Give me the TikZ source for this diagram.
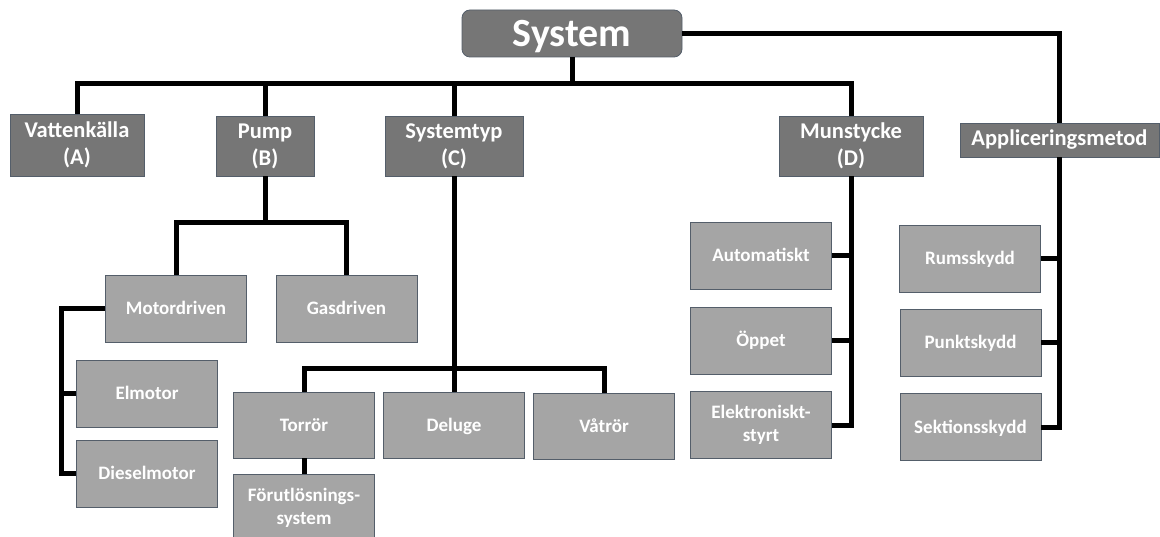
\documentclass[tikz,border=0pt]{standalone}
\usepackage{fontspec}
\setmainfont{Carlito}
\definecolor{darkbox}{RGB}{118,118,118}
\definecolor{lightbox}{RGB}{165,165,165}
\definecolor{boxline}{RGB}{84,94,106}

\begin{document}
\begin{tikzpicture}[x=1pt,y=-1pt,
  every node/.style={draw=boxline,line width=0.8pt,text=white,align=center,inner sep=0pt},
  rootbox/.style={fill=darkbox,rounded corners=8pt,minimum width=220pt,minimum height=47pt,text height=26pt,text depth=0pt,font=\bfseries\fontsize{40}{46}\selectfont},
  mainbox/.style={fill=darkbox,minimum height=60pt,font=\bfseries\fontsize{22.5}{27}\selectfont},
  cellbox/.style={fill=lightbox,minimum width=141pt,minimum height=67pt,font=\bfseries\fontsize{19}{23}\selectfont},
  subbox/.style={cellbox,text height=12.5pt,text depth=0pt},
  wire/.style={draw=black,line width=5pt}]
\useasboundingbox (0,0) rectangle (1160,537);
\node[rootbox] (sys) at (572,33.5) {System};
\node[mainbox,minimum width=134pt,minimum height=62pt] (vatten) at (77,145) {Vattenkälla\\(A)};
\node[mainbox,minimum width=98pt] (pump) at (265,146) {Pump\\(B)};
\node[mainbox,minimum width=138pt] (systyp) at (454,146) {Systemtyp\\(C)};
\node[mainbox,minimum width=144pt] (munst) at (851,146) {Munstycke\\(D)};
\node[mainbox,minimum width=199pt,minimum height=34pt] (appl) at (1059.5,140) {Appliceringsmetod};
\node[subbox] (motor) at (176,308.5) {Motordriven};
\node[subbox] (gas) at (346.5,308.5) {Gasdriven};
\node[subbox] (el) at (147,393.5) {Elmotor};
\node[subbox] (diesel) at (147,473.5) {Dieselmotor};
\node[subbox,minimum height=66pt] (torror) at (304,425) {Torrör};
\node[subbox,minimum height=66pt] (deluge) at (454,425) {Deluge};
\node[subbox,minimum height=66pt] (vatror) at (604,426) {Våtrör};
\node[cellbox] (forut) at (304,507.5) {Förutlösnings-\\system};
\node[subbox] (auto) at (761,255.5) {Automatiskt};
\node[subbox] (oppet) at (761,340.5) {Öppet};
\node[cellbox] (elekt) at (761,425) {Elektroniskt-\\styrt};
\node[subbox] (rums) at (970,258.5) {Rumsskydd};
\node[subbox] (punkt) at (970.5,342.5) {Punktskydd};
\node[subbox] (sektion) at (970.5,427) {Sektionsskydd};
\coordinate (topbar) at (0,84);
\coordinate (pumpbar) at (0,223);
\coordinate (typbar) at (0,369);
\coordinate (motorspine) at (61,0);
\draw[wire] (sys) -- (sys |- topbar);
\draw[wire] (vatten) -- (vatten |- topbar) -| (munst);
\draw[wire] (pump) -- (pump |- topbar);
\draw[wire] (systyp) -- (systyp |- topbar);
\draw[wire] (sys) -| (appl);
\draw[wire] (appl) |- (sektion);
\draw[wire] (rums) -- (rums -| appl);
\draw[wire] (punkt) -- (punkt -| appl);
\draw[wire] (munst) |- (elekt);
\draw[wire] (auto) -- (auto -| munst);
\draw[wire] (oppet) -- (oppet -| munst);
\draw[wire] (pump) -- (pump |- pumpbar);
\draw[wire] (motor) -- (motor |- pumpbar) -| (gas);
\draw[wire] (motor) -- (motor -| motorspine) |- (diesel);
\draw[wire] (el) -- (el -| motorspine);
\draw[wire] (systyp) -- (deluge);
\draw[wire] (torror) -- (torror |- typbar) -| (vatror);
\draw[wire] (torror) -- (forut);
\end{tikzpicture}
\end{document}
